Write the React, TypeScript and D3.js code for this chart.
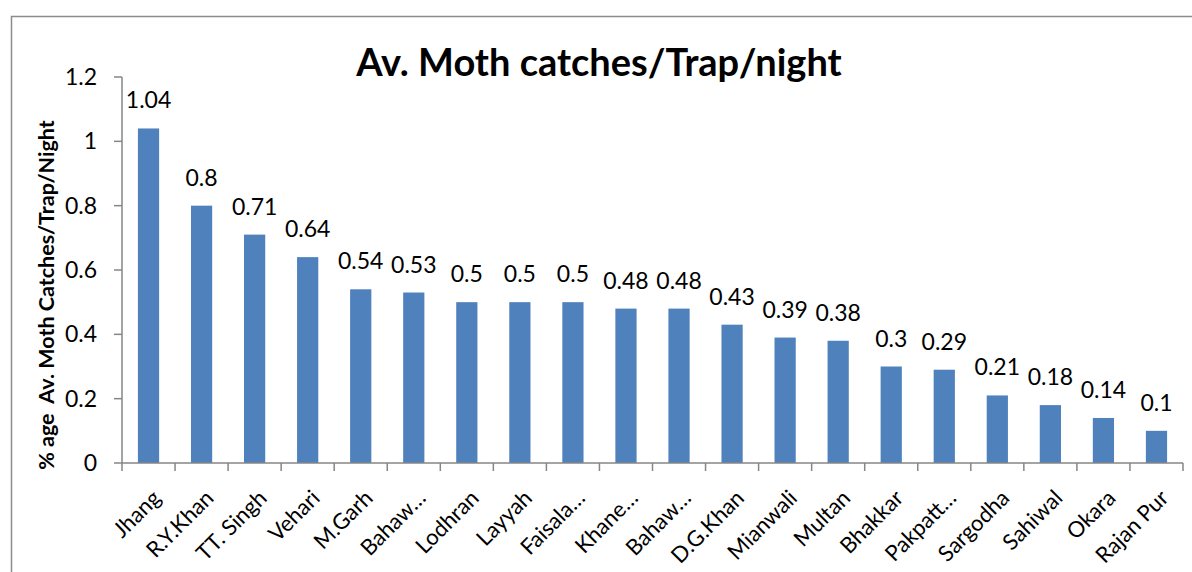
import React from 'react';
import * as d3 from 'd3';

const districts = [
    'Jhang', 'R.Y.Khan', 'TT. Singh', 'Vehari', 'M.Garh', 'Bahaw…', 'Lodhran', 'Layyah',
    'Faisala…', 'Khane…', 'Bahaw…', 'D.G.Khan', 'Mianwali', 'Multan', 'Bhakkar',
    'Pakpatt…', 'Sargodha', 'Sahiwal', 'Okara', 'Rajan Pur'
];
const catches = [
    1.04, 0.8, 0.71, 0.64, 0.54, 0.53, 0.5, 0.5, 0.5, 0.48, 0.48, 0.43, 0.39, 0.38,
    0.3, 0.29, 0.21, 0.18, 0.14, 0.1
];
const yTicks = [0, 0.2, 0.4, 0.6, 0.8, 1, 1.2];

const W = 1192, H = 572;
const margin = { top: 77, right: 9, bottom: 109, left: 122 };
const FONT = 'Lato, "Open Sans", sans-serif';

const App = () => {
    const innerW = W - margin.left - margin.right;
    const innerH = H - margin.top - margin.bottom;

    const idx = districts.map((_, i) => i);
    const x = d3.scaleBand<number>().domain(idx).range([0, innerW]).paddingInner(0.6).paddingOuter(0.3);
    const step = x.step();
    const y = d3.scaleLinear().domain([0, 1.2]).range([innerH, 0]);

    return (
        <svg width={W} height={H} style={{ position: 'absolute', left: 0, top: 0, background: '#fff' }}
            fontFamily={FONT}>
            {/* chart border, only top and left visible */}
            <path d={`M11.5,${H} V16.5 H${W}`} fill="none" stroke="#8c8c8c" strokeWidth={1.5} />

            <text x={599} y={76} textAnchor="middle" fontSize={38} fontWeight="bold" fill="#000">
                Av. Moth catches/Trap/night
            </text>

            <text transform={`translate(54,295) rotate(-90)`} textAnchor="middle"
                fontSize={21.5} fontWeight="bold" fill="#000" style={{ whiteSpace: 'pre' }}>
                % age  Av. Moth Catches/Trap/Night
            </text>

            <g transform={`translate(${margin.left},${margin.top})`}>
                {catches.map((v, i) => (
                    <rect key={i} x={x(i)} y={y(v)} width={x.bandwidth()} height={innerH - y(v)}
                        fill="#4F81BD" />
                ))}
                {catches.map((v, i) => (
                    <text key={'l' + i} x={(x(i) as number) + x.bandwidth() / 2} y={y(v) - 20}
                        textAnchor="middle" fontSize={23} fill="#000">{v}</text>
                ))}

                {/* y axis */}
                <line x1={0} x2={0} y1={0} y2={innerH} stroke="#868686" strokeWidth={1.5} />
                {yTicks.map(t => (
                    <g key={t} transform={`translate(0,${y(t)})`}>
                        <line x1={-8} x2={0} stroke="#868686" strokeWidth={1.5} />
                        <text x={-25} dy="0.35em" textAnchor="end" fontSize={23} fill="#000">{t}</text>
                    </g>
                ))}

                {/* x axis */}
                <line x1={0} x2={innerW} y1={innerH} y2={innerH} stroke="#868686" strokeWidth={1.5} />
                {d3.range(districts.length + 1).map(k => (
                    <line key={k} x1={k * step} x2={k * step} y1={innerH} y2={innerH + 8}
                        stroke="#868686" strokeWidth={1.5} />
                ))}
                {districts.map((d, i) => {
                    const cx = (x(i) as number) + x.bandwidth() / 2 + 8;
                    const cy = innerH + 31;
                    return (
                        <text key={'x' + i} transform={`translate(${cx},${cy}) rotate(-45)`}
                            textAnchor="end" dy="0.35em" fontSize={22} fill="#000">{d}</text>
                    );
                })}
            </g>
        </svg>
    );
};

export default App;
